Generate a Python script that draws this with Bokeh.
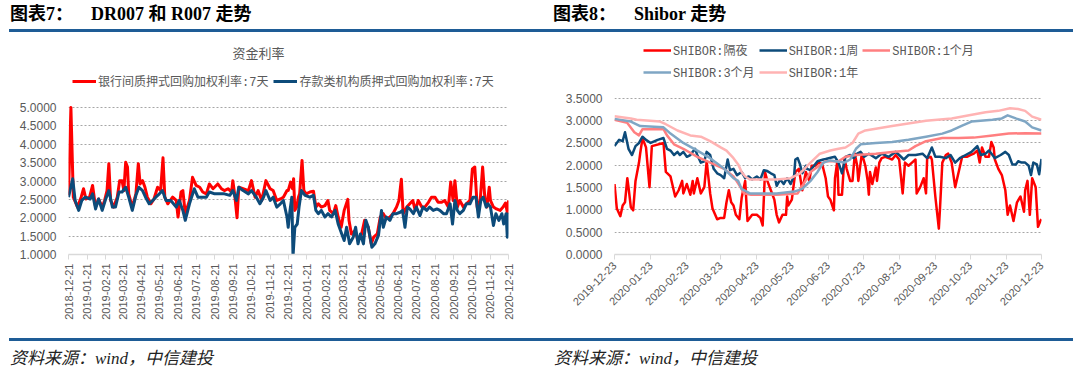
import math
import pandas as pd
from bokeh.plotting import figure
from bokeh.models import (Range1d, FixedTicker, DatetimeTickFormatter, PrintfTickFormatter,
                          Legend, LegendItem, Div, Label)
from bokeh.layouts import column, row
from bokeh.embed import file_html
from bokeh.resources import INLINE

# ---------------- data: left chart (days counted from LEFT_START) ----------------
LEFT_START = "2018-12-21"
left_ticks = ["2018-12-21", "2019-01-21", "2019-02-21", "2019-03-21", "2019-04-21",
              "2019-05-21", "2019-06-21", "2019-07-21", "2019-08-21", "2019-09-21",
              "2019-10-21", "2019-11-21", "2019-12-21", "2020-01-21", "2020-02-21",
              "2020-03-21", "2020-04-21", "2020-05-21", "2020-06-21", "2020-07-21",
              "2020-08-21", "2020-09-21", "2020-10-21", "2020-11-21", "2020-12-21"]
left_yticks = [1.0, 1.5, 2.0, 2.5, 3.0, 3.5, 4.0, 4.5, 5.0]

r007_day = [0, 4, 8, 15, 21, 25, 29, 35, 40, 45,
            50, 56, 60, 64, 67, 70, 75, 81, 85, 89,
            92, 95, 98, 100, 106, 112, 116, 119, 123, 127,
            131, 137, 142, 148, 153, 157, 160, 165, 173, 179,
            182, 187, 190, 194, 201, 206, 212, 218, 223, 229,
            234, 240, 248, 254, 259, 265, 271, 273, 276, 280,
            283, 290, 299, 304, 310, 315, 321, 328, 335, 340,
            346, 352, 357, 363,
            365, 369, 372, 374, 376, 379, 382, 384, 388, 391,
            395, 401, 407, 411, 415, 420, 426, 431, 434, 440,
            444, 448, 453, 458, 464, 466, 470, 476, 481, 487,
            492, 498, 503, 507, 513, 518, 523, 528, 534, 539,
            545, 549, 553, 556, 562, 567, 572, 576, 581, 587,
            592, 598, 603, 609, 614, 620, 625, 631, 635, 639,
            642, 646, 650, 656, 661, 667, 671, 675, 679, 684,
            688, 692, 695, 699, 701, 706, 711, 717, 722, 726,
            729, 731]
r007_val = [2.61, 5.0, 2.56, 2.29, 2.56, 2.79, 2.51, 2.56, 2.88, 2.29,
            2.51, 2.29, 2.47, 2.74, 3.47, 2.47, 2.29, 2.56, 3.01, 3.01,
            2.74, 3.51, 3.38, 2.65, 2.29, 2.65, 3.47, 2.92, 3.01, 2.83,
            2.56, 2.38, 2.51, 2.83, 2.74, 3.63, 2.56, 2.38, 2.56, 2.47,
            2.02, 2.70, 2.74, 2.11, 2.47, 3.10, 2.88, 2.83, 2.70, 2.65,
            2.92, 2.79, 2.92, 2.79, 2.74, 2.79, 2.70, 3.01, 2.65, 2.00,
            2.83, 2.79, 2.74, 3.01, 2.56, 2.74, 2.47, 3.01, 2.79, 2.74,
            2.47, 2.51, 2.56, 2.74,
            2.74, 2.97, 2.79, 3.06, 2.20, 2.29, 2.56, 2.65, 3.56, 2.74,
            2.65, 2.70, 2.72, 2.29, 2.38, 2.29, 2.33, 2.47, 2.20, 2.11,
            2.33, 2.02, 1.74, 2.20, 2.50, 1.93, 1.56, 1.65, 1.38, 1.56,
            1.93, 1.74, 1.29, 1.47, 1.56, 2.02, 2.11, 1.97, 2.02, 2.11,
            2.29, 2.47, 3.05, 2.11, 2.29, 2.38, 2.47, 2.20, 2.47, 2.29,
            2.29, 2.42, 2.56, 2.56, 2.42, 2.42, 2.47, 2.29, 2.97, 2.47,
            3.01, 2.29, 2.47, 2.29, 2.38, 2.47, 3.33, 3.38, 2.29, 2.47,
            3.38, 2.47, 2.29, 2.83, 2.47, 2.29, 2.24, 2.20, 2.29, 2.40,
            2.15, 2.47]

dr007_day = [0, 7, 11, 17, 22, 28, 36, 40, 45, 50,
             56, 61, 67, 73, 78, 84, 89, 95, 100, 106,
             112, 117, 123, 128, 134, 140, 145, 151, 156, 162,
             170, 179, 184, 190, 194, 201, 209, 215, 223, 229,
             234, 243, 251, 259, 268, 273, 279, 283, 290, 299,
             304, 312, 318, 324, 328, 335, 340, 346, 352, 357,
             363,
             365, 368, 371, 373, 376, 380, 383, 387, 393, 401,
             407, 411, 415, 420, 426, 431, 437, 443, 448, 454,
             458, 462, 467, 473, 477, 481, 485, 490, 494, 498,
             504, 509, 515, 520, 523, 528, 534, 539, 545, 551,
             555, 559, 563, 567, 573, 578, 584, 589, 595, 600,
             606, 612, 617, 623, 628, 634, 638, 642, 646, 650,
             656, 661, 667, 672, 677, 681, 685, 689, 694, 697,
             701, 706, 710, 715, 720, 723, 727, 729, 731]
dr007_val = [2.56, 3.06, 2.47, 2.20, 2.47, 2.56, 2.51, 2.65, 2.24, 2.51,
             2.20, 2.47, 2.74, 2.29, 2.29, 2.70, 2.70, 2.83, 2.56, 2.20,
             2.61, 2.83, 2.74, 2.56, 2.38, 2.47, 2.56, 2.65, 2.74, 2.47,
             2.47, 2.29, 2.47, 2.20, 1.93, 2.38, 2.79, 2.56, 2.56, 2.56,
             2.70, 2.65, 2.65, 2.65, 2.61, 2.74, 2.47, 2.83, 2.74, 2.65,
             2.74, 2.56, 2.38, 2.56, 2.74, 2.47, 2.56, 2.29, 2.38, 2.47,
             2.02,
             1.74, 2.20, 2.56, 0.95, 1.74, 1.83, 2.29, 2.74, 2.61, 2.56,
             2.61, 2.20, 2.11, 2.20, 2.02, 2.11, 2.02, 2.20, 1.83, 1.56,
             1.38, 1.74, 1.29, 1.47, 1.74, 1.29, 1.56, 1.29, 1.93, 1.74,
             1.20, 1.29, 1.52, 2.20, 1.74, 2.02, 1.93, 2.11, 2.11, 2.15,
             2.20, 1.74, 2.29, 2.24, 2.11, 2.29, 2.06, 2.29, 2.20, 2.29,
             2.20, 2.24, 2.20, 2.11, 2.11, 2.38, 1.83, 2.47, 2.20, 2.11,
             2.20, 2.38, 2.38, 2.56, 2.56, 2.02, 2.47, 2.56, 2.29, 2.38,
             2.29, 1.79, 2.11, 1.93, 2.11, 1.83, 2.11, 1.47, 2.14]

# ---------------- data: right chart (days counted from RIGHT_START) ----------------
RIGHT_START = "2019-12-23"
right_ticks = ["2019-12-23", "2020-01-23", "2020-02-23", "2020-03-23", "2020-04-23",
               "2020-05-23", "2020-06-23", "2020-07-23", "2020-08-23", "2020-09-23",
               "2020-10-23", "2020-11-23", "2020-12-23"]
right_yticks = [0.0, 0.5, 1.0, 1.5, 2.0, 2.5, 3.0, 3.5]

on_day = [0, 2, 5, 7, 9, 11, 12, 14, 16, 18,
          21, 22, 24, 27, 30, 32, 42, 44, 48, 52,
          55, 58, 59, 62, 65, 67, 68, 71, 74, 77,
          79, 82, 84, 88, 91, 94, 96, 98, 100, 102,
          104, 107, 109, 112, 114, 118, 122, 125, 127, 129,
          131, 134, 137, 139, 141, 144, 147, 148, 149, 152,
          155, 158, 161, 164, 167, 169, 172, 175, 178, 181,
          183, 185, 188, 189, 191, 192, 195, 197, 199, 202,
          204, 206, 208, 209, 212, 215, 217, 218, 219, 221,
          224, 225, 227, 229, 232, 235, 238, 241, 244, 247,
          249, 252, 255, 258, 259, 262, 265, 267, 268, 271,
          272, 275, 277, 278, 279, 281, 284, 286, 289, 292,
          295, 298, 302, 305, 308, 311, 313, 315, 318, 321,
          323, 325, 326, 329, 332, 335, 337, 339, 342, 345,
          348, 351, 352, 354, 356, 358, 361, 363, 365, 366]
on_val = [1.58, 1.03, 0.86, 1.10, 1.17, 1.71, 1.51, 1.06, 0.99, 1.65,
          2.06, 2.26, 2.61, 2.40, 1.51, 2.43, 2.50, 1.85, 1.75, 1.30,
          1.44, 1.65, 1.37, 1.58, 1.34, 1.65, 1.37, 1.71, 1.37, 1.51,
          2.09, 1.37, 1.03, 0.79, 0.82, 0.82, 1.17, 1.44, 1.17, 1.10,
          0.89, 0.79, 1.27, 1.65, 0.75, 0.89, 0.89, 0.82, 0.65, 1.85,
          1.65, 1.44, 1.23, 0.89, 0.72, 0.89, 0.89, 1.30, 1.10, 1.23,
          1.85, 1.92, 1.44, 1.85, 1.65, 1.99, 1.99, 2.06, 2.03, 1.71,
          1.30, 1.23, 0.99, 1.71, 2.09, 1.34, 1.34, 2.16, 1.92, 1.65,
          1.65, 2.26, 1.99, 1.65, 2.26, 1.99, 1.65, 1.34, 1.85, 1.58,
          1.95, 1.65, 2.06, 2.16, 2.19, 2.16, 2.13, 2.23, 2.13, 1.37,
          2.06, 1.99, 2.06, 2.13, 1.37, 1.51, 1.71, 1.37, 2.16, 2.19,
          2.13, 1.30, 0.82, 0.58, 1.03, 2.06, 2.23, 2.26, 2.06, 1.51,
          1.85, 2.19, 2.19, 2.23, 2.26, 2.33, 2.06, 2.40, 2.19, 2.19,
          2.52, 2.40, 2.13, 1.92, 1.78, 1.44, 0.89, 1.10, 0.75, 1.17,
          1.30, 0.96, 1.44, 1.65, 0.89, 1.71, 1.51, 0.62, 0.75, 0.79]

w1_day = [0, 4, 7, 9, 12, 15, 18, 21, 24, 27,
          31, 37, 42, 45, 48, 51, 54, 56, 59, 62,
          65, 69, 71, 74, 77, 79, 82, 85, 88, 91,
          94, 97, 99, 102, 105, 109, 112, 115, 118, 122,
          125, 128, 131, 134, 137, 139, 142, 145, 148, 151,
          154, 155, 157, 159, 161, 164, 165, 168, 171, 174,
          179, 181, 187, 189, 192, 195, 198, 202, 205, 208,
          211, 214, 218, 224, 229, 235, 241, 244, 248, 252,
          258, 264, 268, 272, 275, 279, 284, 288, 292, 296,
          301, 306, 311, 314, 318, 321, 324, 326, 331, 335,
          338, 341, 344, 346, 349, 352, 355, 357, 359, 362,
          364, 366]
w1_val = [2.43, 2.57, 2.54, 2.74, 2.37, 2.23, 2.43, 2.50, 2.64, 2.57,
          2.50, 2.57, 2.61, 2.37, 2.33, 2.23, 2.30, 2.23, 2.30, 2.19,
          2.23, 2.37, 2.23, 2.06, 2.09, 2.30, 2.23, 1.92, 1.82, 1.78,
          1.71, 2.13, 1.89, 1.92, 1.78, 1.85, 1.71, 1.75, 1.68, 1.75,
          1.68, 1.89, 1.87, 1.82, 1.78, 1.54, 1.68, 1.58, 1.71, 1.58,
          1.78, 2.13, 2.16, 2.02, 1.82, 1.99, 1.92, 1.89, 1.99, 2.09,
          2.13, 2.14, 2.18, 2.19, 2.06, 1.82, 2.19, 2.23, 2.16, 2.26,
          2.30, 2.19, 2.26, 2.16, 2.26, 2.19, 2.30, 2.23, 2.13, 2.23,
          2.23, 2.26, 2.16, 2.40, 2.19, 2.19, 2.16, 2.23, 2.06, 2.16,
          2.23, 2.30, 2.43, 2.23, 2.26, 2.33, 2.23, 2.16, 2.23, 2.30,
          2.23, 2.02, 2.02, 2.09, 2.06, 2.06, 1.99, 1.78, 2.06, 2.02,
          1.80, 2.14]

m1_day = [0, 11, 17, 21, 24, 42, 45, 51, 59, 71,
          82, 94, 102, 108, 111, 117, 139, 157, 162, 168,
          177, 181, 192, 198, 207, 224, 238, 252, 258, 267,
          281, 295, 308, 324, 338, 352, 366]
m1_val = [3.02, 2.95, 2.74, 2.67, 2.81, 2.81, 2.67, 2.47, 2.37, 2.19,
          2.06, 1.92, 1.75, 1.51, 1.37, 1.34, 1.34, 1.37, 1.58, 1.85,
          2.02, 2.09, 2.09, 2.19, 2.23, 2.26, 2.30, 2.33, 2.43, 2.54,
          2.61, 2.61, 2.62, 2.67, 2.71, 2.72, 2.71]

m3_day = [0, 14, 22, 42, 48, 59, 71, 82, 94, 102,
          106, 109, 116, 125, 139, 154, 161, 168, 174, 179,
          185, 189, 197, 202, 207, 211, 224, 238, 252, 267,
          281, 289, 298, 306, 324, 332, 337, 344, 352, 358,
          366]
m3_val = [3.04, 2.98, 2.88, 2.85, 2.71, 2.50, 2.33, 2.16, 1.92, 1.71,
          1.65, 1.47, 1.37, 1.37, 1.37, 1.41, 1.47, 1.65, 1.85, 2.06,
          2.11, 2.09, 2.06, 2.13, 2.37, 2.47, 2.50, 2.52, 2.57, 2.64,
          2.71, 2.78, 2.89, 2.98, 3.02, 3.05, 3.12, 3.05, 2.98, 2.85,
          2.78]

y1_day = [0, 14, 19, 39, 44, 54, 65, 74, 82, 91,
          96, 102, 106, 109, 112, 116, 125, 139, 151, 159,
          168, 176, 185, 192, 198, 204, 209, 215, 238, 267,
          289, 304, 318, 329, 339, 346, 352, 358, 366]
y1_val = [3.10, 3.05, 3.02, 2.98, 2.92, 2.78, 2.67, 2.64, 2.54, 2.40,
          2.33, 2.16, 2.02, 1.85, 1.75, 1.68, 1.68, 1.68, 1.71, 1.82,
          2.06, 2.26, 2.33, 2.37, 2.40, 2.50, 2.71, 2.78, 2.88, 3.00,
          3.05, 3.12, 3.19, 3.22, 3.28, 3.26, 3.22, 3.09, 3.02]

# ---------------- helpers ----------------
def to_dates(start, days):
    return list(pd.Timestamp(start) + pd.to_timedelta(days, unit="D"))


def to_ms(dates):
    return [pd.Timestamp(d).value / 1e6 for d in dates]


AXIS_FONT = "Liberation Sans"
LEG_FONT = "Liberation Mono, Noto Sans CJK SC"
GRAY = "#595959"
RULE = "#1E5C96"
RED = "#FF0000"
NAVY = "#0D4B7A"


def style(p, yticks, orient, xlabel_size):
    p.outline_line_color = None
    p.background_fill_color = "white"
    p.border_fill_color = "white"
    p.xgrid.grid_line_color = None
    p.ygrid.grid_line_color = "#A6A6A6"
    p.ygrid.grid_line_dash = "2 2"
    p.ygrid.grid_line_width = 1
    p.yaxis.ticker = FixedTicker(ticks=yticks)
    p.yaxis.formatter = PrintfTickFormatter(format="%.4f")
    p.yaxis.axis_line_color = None
    p.yaxis.major_tick_line_color = None
    p.yaxis.minor_tick_line_color = None
    p.yaxis.major_label_text_font = AXIS_FONT
    p.yaxis.major_label_text_font_size = "12px"
    p.yaxis.major_label_text_color = GRAY
    p.yaxis.major_label_standoff = 6
    p.xaxis.axis_line_color = "#D9D9D9"
    p.xaxis.axis_line_width = 1.5
    p.xaxis.major_tick_line_color = "#D9D9D9"
    p.xaxis.major_tick_in = 0
    p.xaxis.major_tick_out = 5
    p.xaxis.minor_tick_line_color = None
    p.xaxis.major_label_orientation = orient
    p.xaxis.major_label_text_font = AXIS_FONT
    p.xaxis.major_label_text_font_size = xlabel_size
    p.xaxis.major_label_text_color = GRAY
    p.xaxis.major_label_standoff = 4
    fmt = "%Y-%m-%d"
    p.xaxis.formatter = DatetimeTickFormatter(days=fmt, months=fmt, years=fmt,
                                              hours=fmt, minutes=fmt, seconds=fmt)


# ---------------- left figure ----------------
# plot frame is extended upward (headroom, in px) so the title and legend sit inside it;
# the value axis still shows 1.0 .. 5.0 over 147 px
L_PLOT_H, L_HEAD = 147, 67
l_top = left_yticks[-1] + L_HEAD * (left_yticks[-1] - left_yticks[0]) / L_PLOT_H
lt_ms = to_ms(left_ticks)
p1 = figure(x_axis_type="datetime", output_backend="svg", toolbar_location=None,
            width=540, height=306,
            min_border_left=68, min_border_right=32, min_border_top=75 - L_HEAD,
            min_border_bottom=84,
            x_range=Range1d(lt_ms[0], lt_ms[-1]), y_range=Range1d(left_yticks[0], l_top))
style(p1, left_yticks, math.pi / 2, "11px")
p1.xaxis.ticker = FixedTicker(ticks=lt_ms)

r_red = p1.line(to_dates(LEFT_START, r007_day), r007_val, color=RED, line_width=3,
                line_join="round")
r_blue = p1.line(to_dates(LEFT_START, dr007_day), dr007_val, color=NAVY, line_width=3,
                 line_join="round")

p1.add_layout(Label(x=190, y=202, x_units="screen", y_units="screen", text="资金利率",
                    text_align="center", text_baseline="middle", text_font="Noto Sans CJK SC",
                    text_font_size="13px", text_color=GRAY))

leg1 = Legend(items=[LegendItem(label="银行间质押式回购加权利率:7天", renderers=[r_red]),
                     LegendItem(label="存款类机构质押式回购加权利率:7天", renderers=[r_blue])],
              orientation="horizontal", location=(4, 164),
              label_text_font=LEG_FONT, label_text_font_size="12px", label_text_color=GRAY,
              glyph_width=24, glyph_height=16, label_standoff=2, spacing=5,
              padding=0, margin=0, border_line_color=None, background_fill_alpha=0)
p1.add_layout(leg1, "center")

# ---------------- right figure ----------------
R_PLOT_H, R_HEAD = 170, 63
r_top = right_yticks[-1] + R_HEAD * (right_yticks[-1] - right_yticks[0]) / R_PLOT_H
rt_ms = to_ms(right_ticks)
p2 = figure(x_axis_type="datetime", output_backend="svg", toolbar_location=None,
            width=540, height=306,
            min_border_left=74, min_border_right=39, min_border_top=63 - R_HEAD,
            min_border_bottom=73,
            x_range=Range1d(rt_ms[0], rt_ms[-1]), y_range=Range1d(right_yticks[0], r_top))
style(p2, right_yticks, math.pi / 4, "11px")
p2.xaxis.ticker = FixedTicker(ticks=rt_ms)

series = [("SHIBOR:隔夜", on_day, on_val, RED),
          ("SHIBOR:1周", w1_day, w1_val, NAVY),
          ("SHIBOR:1个月", m1_day, m1_val, "#FF7F80"),
          ("SHIBOR:3个月", m3_day, m3_val, "#7FA6C4"),
          ("SHIBOR:1年", y1_day, y1_val, "#FFB3B3")]
items2 = []
for name, d, v, c in series:
    r = p2.line(to_dates(RIGHT_START, d), v, color=c, line_width=2.5, line_join="round")
    items2.append(LegendItem(label=name, renderers=[r]))

leg2 = Legend(items=items2, orientation="horizontal", ncols=3, location=(29, 173),
              label_text_font=LEG_FONT, label_text_font_size="12px", label_text_color=GRAY,
              glyph_width=28, glyph_height=16, label_standoff=2, spacing=4,
              padding=0, margin=0, border_line_color=None, background_fill_alpha=0)
p2.add_layout(leg2, "center")

# ---------------- headers / footers ----------------
HFONT = "'Liberation Serif','Noto Sans CJK SC',serif"


def header(txt, rest, ml, pad, w):
    html = ('<div style="box-sizing:border-box;width:%dpx;margin-left:%dpx;height:32px;'
            'line-height:28px;border-bottom:3px solid %s;'
            'font-family:%s;font-weight:bold;font-size:18px;color:#000;'
            'padding-left:%dpx;white-space:nowrap;">%s<span style="margin-left:18px">%s</span></div>'
            % (w, ml, RULE, HFONT, pad, txt, rest))
    return Div(text=html, width=540, height=32, margin=0)


def footer(ml, pad, w):
    html = ('<div style="box-sizing:border-box;width:%dpx;margin-left:%dpx;height:40px;'
            'line-height:36px;border-top:3px solid %s;'
            'font-family:%s;font-style:italic;font-size:17px;color:#222;'
            'padding-left:%dpx;white-space:nowrap;">资料来源：wind，中信建投</div>'
            % (w, ml, RULE, HFONT, pad))
    return Div(text=html, width=540, height=40, margin=0)


h1 = header("图表7：", "DR007 和 R007 走势", 9, 1, 531)
h2 = header("图表8：", "Shibor 走势", 0, 13, 533)
f1 = footer(9, 1, 531)
f2 = footer(0, 14, 533)

layout = column(row(h1, h2, spacing=0), row(p1, p2, spacing=0), row(f1, f2, spacing=0),
                spacing=0)

open("out.html", "w").write(file_html(layout, INLINE))
